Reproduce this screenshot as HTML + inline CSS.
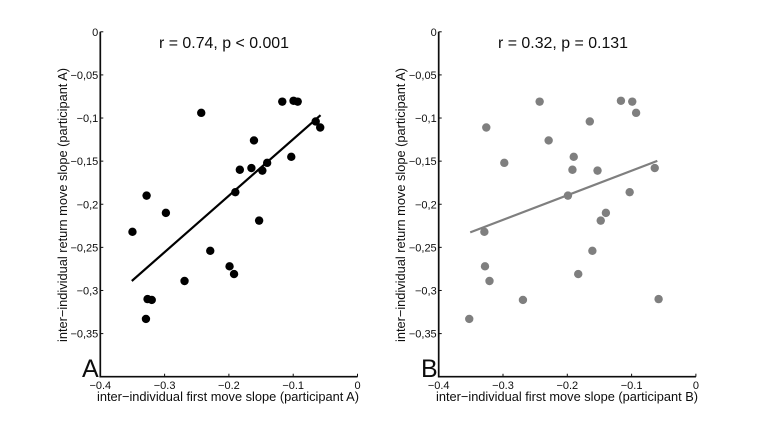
<!DOCTYPE html>
<html lang="en">
<head>
<meta charset="utf-8">
<title>Inter-individual slope correlations</title>
<style>
html,body{margin:0;padding:0;background:#fff;}
svg{display:block;}
text{font-family:"Liberation Sans",sans-serif;fill:#111;}
</style>
</head>
<body>
<svg id="chart" xmlns="http://www.w3.org/2000/svg" width="769" height="424" viewBox="0 0 769 424">
  <g filter="url(#soft)" id="root">
    <text x="224" y="48" font-size="16" text-anchor="middle" textLength="130" lengthAdjust="spacingAndGlyphs">r = 0.74, p &lt; 0.001</text>
    <text x="563" y="48" font-size="16" text-anchor="middle" textLength="130" lengthAdjust="spacingAndGlyphs">r = 0.32, p = 0.131</text>
    <text transform="translate(67,205) rotate(-90)" font-size="13" text-anchor="middle" textLength="274" lengthAdjust="spacingAndGlyphs">inter−individual return move slope (participant A)</text>
    <text transform="translate(405,205) rotate(-90)" font-size="13" text-anchor="middle" textLength="274" lengthAdjust="spacingAndGlyphs">inter−individual return move slope (participant A)</text>
    <text x="228" y="401" font-size="13" text-anchor="middle" textLength="262" lengthAdjust="spacingAndGlyphs">inter−individual first move slope (participant A)</text>
    <text x="567" y="401" font-size="13" text-anchor="middle" textLength="262" lengthAdjust="spacingAndGlyphs">inter−individual first move slope (participant B)</text>
    <text x="82" y="377" font-size="25" style="fill:#111">A</text>
    <text x="421" y="377" font-size="25" style="fill:#111">B</text>
  </g>
  <defs>
    <filter id="soft" x="0" y="0" width="100%" height="100%"><feGaussianBlur stdDeviation="0.3"/></filter>
  </defs>
</svg>
<script>
var xTicks = [-0.4, -0.3, -0.2, -0.1, 0];
var xTickLabels = ["−0.4", "−0.3", "−0.2", "−0.1", "0"];
var yTicks = [0, -0.05, -0.1, -0.15, -0.2, -0.25, -0.3, -0.35];
var yTickLabels = ["0", "−0,05", "−0,1", "−0,15", "−0,2", "−0,25", "−0,3", "−0,35"];

var panelAX = [-0.243, -0.117, -0.0995, -0.093, -0.065, -0.058, -0.161, -0.103, -0.1405, -0.165, -0.183, -0.148, -0.19, -0.328, -0.298, -0.153, -0.35, -0.229, -0.199, -0.192, -0.269, -0.3265, -0.32, -0.329];
var panelAY = [-0.094, -0.081, -0.08, -0.081, -0.104, -0.111, -0.126, -0.145, -0.152, -0.158, -0.16, -0.161, -0.186, -0.19, -0.21, -0.219, -0.232, -0.254, -0.272, -0.281, -0.289, -0.31, -0.311, -0.333];
var panelALineX = [-0.351, -0.0575];
var panelALineY = [-0.289, -0.0967];

var panelBX = [-0.243, -0.1166, -0.099, -0.093, -0.165, -0.326, -0.229, -0.19, -0.298, -0.192, -0.153, -0.064, -0.103, -0.199, -0.14, -0.148, -0.329, -0.161, -0.328, -0.183, -0.321, -0.269, -0.058, -0.3525];
var panelBY = [-0.081, -0.08, -0.081, -0.094, -0.104, -0.111, -0.126, -0.145, -0.152, -0.16, -0.161, -0.158, -0.186, -0.19, -0.21, -0.219, -0.232, -0.254, -0.272, -0.281, -0.289, -0.311, -0.31, -0.333];
var panelBLineX = [-0.351, -0.06];
var panelBLineY = [-0.2326, -0.1497];

var NS = "http://www.w3.org/2000/svg";
var root = document.getElementById("root");

function drawPanel(prefix, left, xs, ys, lineXs, lineYs, color) {
  var right = left + 257.2;
  var top = 31.8;
  var bottom = 376.7;
  function sx(v) { return right + (v / 0.4) * (right - left); }
  function sy(v) { return top - (v / 0.4) * (bottom - top); }

  var group = document.createElementNS(NS, "g");
  
  
  root.appendChild(group);

  var axes = document.createElementNS(NS, "path");
  axes.setAttribute("d", "M" + left + " " + top + "V" + bottom + "H" + right);
  axes.setAttribute("fill", "none");
  axes.setAttribute("stroke", "#111");
  axes.setAttribute("stroke-width", "1.7");
  
  
  group.appendChild(axes);

  xTicks.forEach(function (t, i) {
    var tick = document.createElementNS(NS, "line");
    tick.setAttribute("x1", sx(t));
    tick.setAttribute("x2", sx(t));
    tick.setAttribute("y1", bottom);
    tick.setAttribute("y2", bottom - 3);
    tick.setAttribute("stroke", "#111");
    tick.setAttribute("stroke-width", "1");
    
    
    group.appendChild(tick);

    var label = document.createElementNS(NS, "text");
    label.setAttribute("x", sx(t));
    label.setAttribute("y", 389);
    label.setAttribute("font-size", "11");
    label.setAttribute("text-anchor", "middle");
    
    
    label.textContent = xTickLabels[i];
    group.appendChild(label);
  });

  yTicks.forEach(function (t, i) {
    var tick = document.createElementNS(NS, "line");
    tick.setAttribute("x1", left);
    tick.setAttribute("x2", left + 3);
    tick.setAttribute("y1", sy(t));
    tick.setAttribute("y2", sy(t));
    tick.setAttribute("stroke", "#111");
    tick.setAttribute("stroke-width", "1");
    
    
    group.appendChild(tick);

    var label = document.createElementNS(NS, "text");
    label.setAttribute("x", left - 2);
    label.setAttribute("y", sy(t) + 4);
    label.setAttribute("font-size", "11");
    label.setAttribute("text-anchor", "end");
    
    
    label.textContent = yTickLabels[i];
    group.appendChild(label);
  });

  var fit = document.createElementNS(NS, "line");
  fit.setAttribute("x1", sx(lineXs[0]));
  fit.setAttribute("y1", sy(lineYs[0]));
  fit.setAttribute("x2", sx(lineXs[1]));
  fit.setAttribute("y2", sy(lineYs[1]));
  fit.setAttribute("stroke", color);
  fit.setAttribute("stroke-width", "2.2");
  
  
  group.appendChild(fit);

  xs.forEach(function (v, i) {
    var dot = document.createElementNS(NS, "circle");
    dot.setAttribute("cx", sx(v));
    dot.setAttribute("cy", sy(ys[i]));
    dot.setAttribute("r", "4.2");
    dot.setAttribute("fill", color);
    
    
    group.appendChild(dot);
  });
}

drawPanel("panel-a", 100.3, panelAX, panelAY, panelALineX, panelALineY, "#000000");
drawPanel("panel-b", 438.7, panelBX, panelBY, panelBLineX, panelBLineY, "#7f7f7f");
</script>
</body>
</html>
